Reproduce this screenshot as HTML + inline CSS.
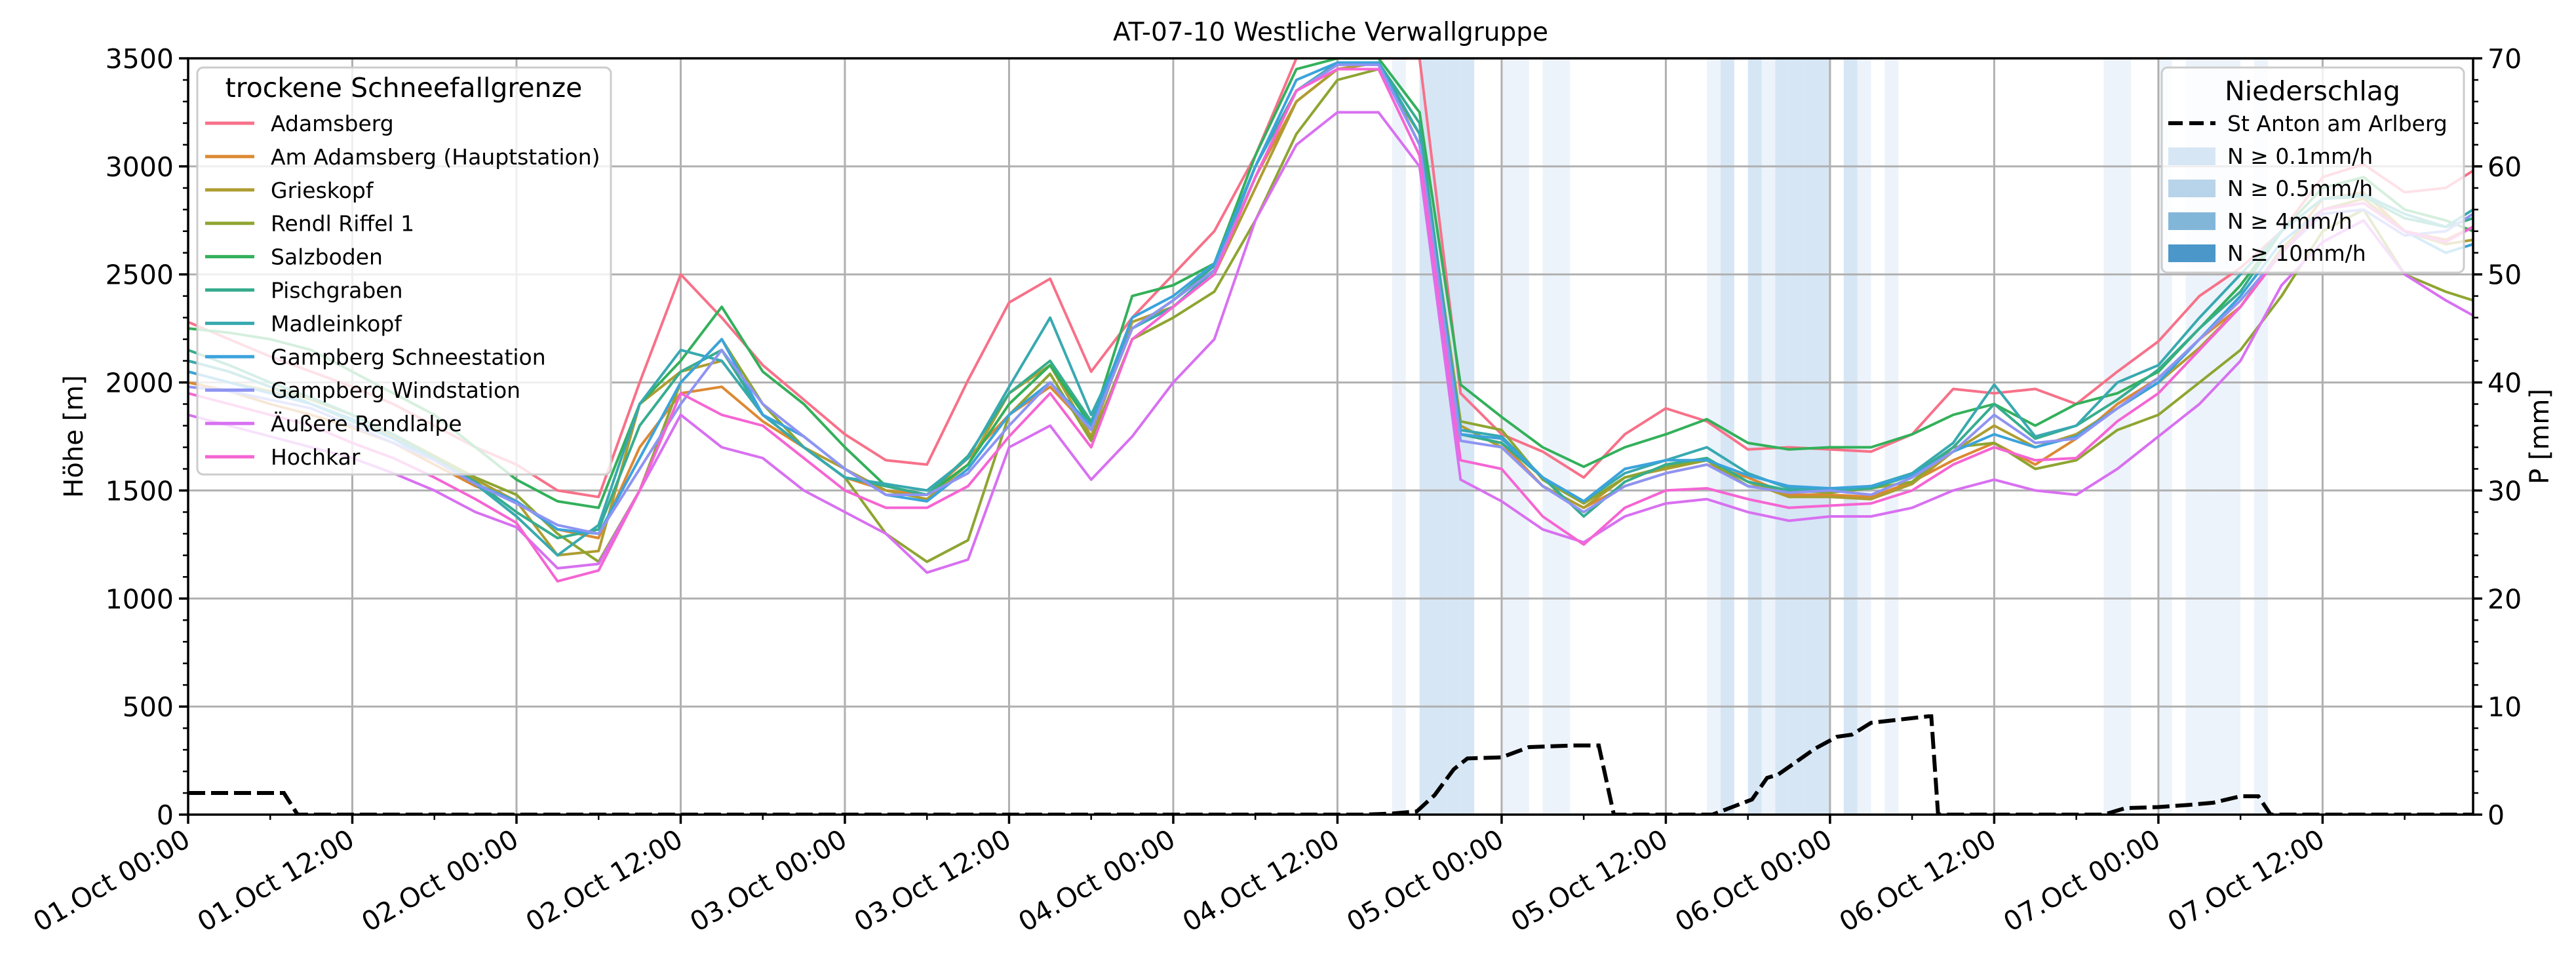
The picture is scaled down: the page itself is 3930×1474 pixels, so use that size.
<!DOCTYPE html>
<html><head><meta charset="utf-8">
<style>
html,body{margin:0;padding:0;background:#fff;}
svg{display:block;font-family:"DejaVu Sans","Liberation Sans",sans-serif;}
</style></head>
<body>
<svg id="chart" width="3930" height="1474" viewBox="0 0 3930 1474" xmlns="http://www.w3.org/2000/svg">
<defs><clipPath id="plotclip"><rect x="287" y="89" width="3486" height="1154"/></clipPath></defs>
<rect width="3930" height="1474" fill="#fff"/>
<g id="bands" clip-path="url(#plotclip)"></g>
<g id="grid"></g>
<g id="series" clip-path="url(#plotclip)"></g>
<g id="precip" clip-path="url(#plotclip)"></g>
<g id="axes"></g>
<text x="2030" y="62" font-size="39" text-anchor="middle">AT-07-10 Westliche Verwallgruppe</text>
<text x="0" y="0" font-size="40" text-anchor="middle" transform="translate(126,666) rotate(-90)">Höhe [m]</text>
<text x="0" y="0" font-size="40" text-anchor="middle" transform="translate(3888,666) rotate(-90)">P [mm]</text>
<g id="legend1"></g>
<g id="legend2"></g>
</svg>
<script>
const hours = [0,3,6,9,12,15,18,21,24,27,30,33,36,39,42,45,48,51,54,57,60,63,66,69,72,75,78,81,84,87,90,93,96,99,102,105,108,111,114,117,120,123,126,129,132,135,138,141,144,147,150,153,156,159,162,165,167];
const stationNames = ["Adamsberg","Am Adamsberg (Hauptstation)","Grieskopf","Rendl Riffel 1","Salzboden","Pischgraben","Madleinkopf","Gampberg Schneestation","Gampberg Windstation","Äußere Rendlalpe","Hochkar"];
const stationColors = ["#f77189","#dc8932","#ae9d31","#8ea531","#33b05a","#36ad8e","#38a9b0","#3ba3dc","#8e94f2","#d870f1","#f565d3"];
const sAdamsberg = [2280,2200,2120,2050,1980,1900,1800,1700,1620,1500,1470,2000,2500,2300,2080,1920,1760,1640,1620,2010,2370,2480,2050,2300,2500,2700,3050,3500,3520,3500,3500,1950,1760,1680,1560,1760,1880,1820,1690,1700,1690,1680,1760,1970,1950,1970,1900,2050,2190,2400,2530,2700,2950,3010,2880,2900,2980];
const sAmAdamsberg = [2000,1960,1900,1850,1790,1720,1620,1520,1450,1320,1280,1700,1950,1980,1820,1700,1560,1500,1480,1650,1850,1980,1780,2250,2380,2520,2950,3300,3450,3480,3100,1760,1720,1520,1420,1520,1580,1620,1560,1480,1480,1470,1540,1640,1720,1620,1740,1900,2020,2200,2350,2600,2850,2880,2700,2660,2720];
const sGrieskopf = [2050,2000,1960,1900,1830,1750,1650,1550,1450,1200,1220,1900,2050,2100,1850,1700,1600,1500,1460,1620,1950,2080,1750,2280,2350,2500,2900,3300,3450,3480,3150,1800,1700,1520,1420,1560,1600,1640,1540,1470,1470,1460,1530,1680,1800,1700,1760,1880,2000,2160,2350,2620,2800,2850,2700,2640,2660];
const sRendl = [2100,2050,1980,1920,1850,1760,1660,1560,1480,1300,1170,1500,2000,2200,1900,1700,1560,1300,1170,1270,1850,2040,1730,2200,2300,2420,2750,3150,3400,3450,3150,1820,1780,1550,1440,1560,1610,1640,1520,1500,1490,1510,1540,1700,1720,1600,1640,1780,1850,2000,2150,2400,2700,2800,2500,2420,2380];
const sSalzboden = [2250,2230,2200,2150,2050,1950,1850,1700,1550,1450,1420,1900,2100,2350,2050,1900,1700,1520,1480,1620,1900,2080,1800,2400,2450,2550,3050,3450,3500,3500,3250,1990,1840,1700,1610,1700,1760,1830,1720,1690,1700,1700,1760,1850,1900,1800,1900,1950,2050,2250,2450,2700,2900,2950,2800,2750,2700];
const sPischgraben = [2150,2080,2000,1930,1850,1760,1650,1540,1400,1280,1320,1800,2050,2150,1850,1700,1560,1520,1480,1660,1950,2100,1820,2250,2380,2540,3000,3350,3480,3480,3200,1760,1720,1560,1380,1540,1620,1650,1540,1500,1500,1510,1570,1700,1900,1740,1800,1920,2060,2250,2420,2700,2850,2860,2760,2720,2760];
const sMadleinkopf = [2100,2050,1980,1900,1820,1740,1640,1530,1380,1200,1340,1900,2150,2100,1850,1700,1560,1530,1500,1650,1980,2300,1850,2250,2350,2520,3000,3350,3480,3480,3150,1780,1750,1560,1450,1580,1640,1700,1580,1510,1500,1520,1580,1720,1990,1750,1800,2000,2080,2300,2500,2700,2850,2870,2780,2720,2800];
const sGampSchnee = [2050,2000,1950,1900,1830,1740,1640,1530,1450,1320,1300,1650,2000,2200,1850,1750,1600,1480,1450,1600,1850,2000,1800,2300,2400,2550,3000,3400,3480,3480,3100,1760,1740,1560,1450,1600,1640,1640,1570,1520,1510,1520,1570,1680,1760,1700,1750,1880,2000,2200,2400,2650,2800,2830,2700,2600,2640];
const sGampWind = [1980,1960,1920,1880,1800,1720,1640,1530,1440,1340,1300,1600,1900,2150,1900,1750,1600,1480,1480,1580,1800,2000,1780,2250,2380,2520,2950,3350,3470,3470,3100,1730,1700,1520,1400,1520,1580,1620,1520,1490,1500,1480,1560,1680,1850,1720,1740,1880,2020,2200,2380,2600,2780,2800,2680,2700,2780];
const sAeussere = [1850,1800,1750,1700,1650,1580,1500,1400,1330,1140,1160,1500,1850,1700,1650,1500,1400,1300,1120,1180,1700,1800,1550,1750,2000,2200,2750,3100,3250,3250,3000,1550,1450,1320,1260,1380,1440,1460,1400,1360,1380,1380,1420,1500,1550,1500,1480,1600,1750,1900,2100,2450,2650,2750,2500,2380,2310];
const sHochkar = [1950,1900,1850,1800,1720,1650,1560,1460,1350,1080,1130,1500,1950,1850,1800,1650,1500,1420,1420,1520,1750,1950,1700,2200,2350,2500,2950,3350,3450,3450,3050,1640,1600,1380,1250,1420,1500,1510,1460,1420,1430,1440,1500,1620,1700,1640,1650,1820,1950,2150,2350,2600,2800,2830,2700,2650,2720];
const precipHours = [0,7,8,86,88,89.8,91.1,92.5,93.5,96,98,101.3,103.1,104.2,111.4,114.3,115.4,116.2,118.9,120.5,121.6,123,127.2,127.4,127.9,140,141.6,144,146.2,148,150,151.3,152.2,167];
const precipValues = [2,2,0,0,0.1,0.3,1.8,4.2,5.2,5.3,6.25,6.4,6.4,0,0,1.4,3.4,3.7,6.1,7.2,7.4,8.5,9.1,9.1,0,0,0.6,0.7,0.9,1.1,1.7,1.7,0,0];
const lightBandHours = [88,96,97,99,100,111,115,122,124,140,141,144,146,147,148,149,151];
const mediumBandHours = [90,91,92,93,112,114,116,117,118,119,121];
const xTickLabels = ["01.Oct 00:00","01.Oct 12:00","02.Oct 00:00","02.Oct 12:00","03.Oct 00:00","03.Oct 12:00","04.Oct 00:00","04.Oct 12:00","05.Oct 00:00","05.Oct 12:00","06.Oct 00:00","06.Oct 12:00","07.Oct 00:00","07.Oct 12:00"];
const yTicks = [0,500,1000,1500,2000,2500,3000,3500];
const y2Ticks = [0,10,20,30,40,50,60,70];

const series = [sAdamsberg,sAmAdamsberg,sGrieskopf,sRendl,sSalzboden,sPischgraben,sMadleinkopf,sGampSchnee,sGampWind,sAeussere,sHochkar];
const NS="http://www.w3.org/2000/svg";
const X0=287, X1=3773, Y0=1243, Y1=89;
const xS=h=>X0+h*((X1-X0)/167);
const yL=m=>Y0-m*((Y0-Y1)/3500);
const yR=p=>Y0-p*((Y0-Y1)/70);
function mk(tag,attrs,parent){const e=document.createElementNS(NS,tag);for(const k in attrs)e.setAttribute(k,attrs[k]);parent.appendChild(e);return e;}

const bands=document.getElementById('bands');
lightBandHours.forEach(h=>{
  const r=mk('rect',{x:xS(h),y:Y1,width:xS(h+1)-xS(h),height:Y0-Y1,fill:'#edf3fa'},bands);
  
  
});
mediumBandHours.forEach(h=>{
  const r=mk('rect',{x:xS(h),y:Y1,width:xS(h+1)-xS(h),height:Y0-Y1,fill:'#d6e6f4'},bands);
  
  
});

const grid=document.getElementById('grid');
for(let i=0;i<xTickLabels.length;i++){
  const x=xS(i*12);
  const l=mk('line',{x1:x,x2:x,y1:Y1,y2:Y0,stroke:'#b0b0b0','stroke-width':3},grid);
  
  
}
yTicks.forEach(v=>{
  const y=yL(v);
  const l=mk('line',{x1:X0,x2:X1,y1:y,y2:y,stroke:'#b0b0b0','stroke-width':3},grid);
  
  
});

const sg=document.getElementById('series');
series.forEach((s,i)=>{
  const d=s.map((v,j)=>(j?'L':'M')+xS(hours[j]).toFixed(1)+','+yL(v).toFixed(1)).join('');
  const p=mk('path',{d:d,fill:'none',stroke:stationColors[i],'stroke-width':4,'stroke-linejoin':'round'},sg);
  
  
});

const pg=document.getElementById('precip');
const pd=precipValues.map((v,j)=>(j?'L':'M')+xS(precipHours[j]).toFixed(1)+','+yR(v).toFixed(1)).join('');
const pl=mk('path',{d:pd,fill:'none',stroke:'#000','stroke-width':6,'stroke-dasharray':'26,9'},pg);



const ax=document.getElementById('axes');
const fr=mk('rect',{x:X0,y:Y1,width:X1-X0,height:Y0-Y1,fill:'none',stroke:'#000','stroke-width':3.5},ax);


for(let h=0;h<=167;h+=6){
  const x=xS(h); const major=h%12===0;
  const t=mk('line',{x1:x,x2:x,y1:Y0,y2:Y0+(major?14:8),stroke:'#000','stroke-width':major?3.5:2.5},ax);
  
  
}
xTickLabels.forEach((lab,i)=>{
  const x=xS(i*12);
  const t=mk('text',{x:0,y:0,'font-size':41,'text-anchor':'end',transform:`translate(${x+6},${Y0+46}) rotate(-30)`},ax);
  t.textContent=lab;
  
  
});
for(let m=0;m<=3500;m+=100){
  const y=yL(m); const major=m%500===0;
  const t=mk('line',{x1:X0-(major?14:8),x2:X0,y1:y,y2:y,stroke:'#000','stroke-width':major?3.5:2.5},ax);
  
  
}
yTicks.forEach(v=>{
  const t=mk('text',{x:X0-22,y:yL(v)+15,'font-size':41,'text-anchor':'end'},ax);
  t.textContent=v;
  
  
});
for(let p=0;p<=70;p+=2){
  const y=yR(p); const major=p%10===0;
  const t=mk('line',{x1:X1,x2:X1+(major?14:8),y1:y,y2:y,stroke:'#000','stroke-width':major?3.5:2.5},ax);
  
  
}
y2Ticks.forEach(v=>{
  const t=mk('text',{x:X1+22,y:yR(v)+15,'font-size':41,'text-anchor':'start'},ax);
  t.textContent=v;
  
  
});

// legend 1
const L1=document.getElementById('legend1');
const b1=mk('rect',{x:301,y:103,width:631,height:621,rx:9,fill:'#fff','fill-opacity':0.8,stroke:'#cccccc','stroke-width':3},L1);


const t1=mk('text',{x:616,y:148,'font-size':41,'text-anchor':'middle'},L1);
t1.textContent='trockene Schneefallgrenze';


stationNames.forEach((n,i)=>{
  const cy=188+i*50.9;
  const g=mk('g',{},L1);
  
  
  mk('line',{x1:313,x2:388,y1:cy,y2:cy,stroke:stationColors[i],'stroke-width':5},g);
  const t=mk('text',{x:413,y:cy+12,'font-size':33},g);
  t.textContent=n;
});

// legend 2
const L2=document.getElementById('legend2');
const b2=mk('rect',{x:3298,y:103,width:461,height:313,rx:9,fill:'#fff','fill-opacity':0.8,stroke:'#cccccc','stroke-width':3},L2);


const t2=mk('text',{x:3528,y:153,'font-size':41,'text-anchor':'middle'},L2);
t2.textContent='Niederschlag';


const l2labels=['St Anton am Arlberg','N ≥ 0.1mm/h','N ≥ 0.5mm/h','N ≥ 4mm/h','N ≥ 10mm/h'];
const l2colors=[null,'#d6e6f4','#b8d4ea','#82b6d9','#4b97c9'];
const l2y=[188,238,287,337,386];
l2labels.forEach((lab,i)=>{
  const cy=l2y[i];
  const g=mk('g',{},L2);
  
  
  if(i===0) mk('line',{x1:3308,x2:3380,y1:cy,y2:cy,stroke:'#000','stroke-width':6,'stroke-dasharray':'22,10'},g);
  else mk('rect',{x:3308,y:cy-13,width:72,height:27,fill:l2colors[i]},g);
  const t=mk('text',{x:3398,y:cy+12,'font-size':33},g);
  t.textContent=lab;
});
</script>
</body></html>
